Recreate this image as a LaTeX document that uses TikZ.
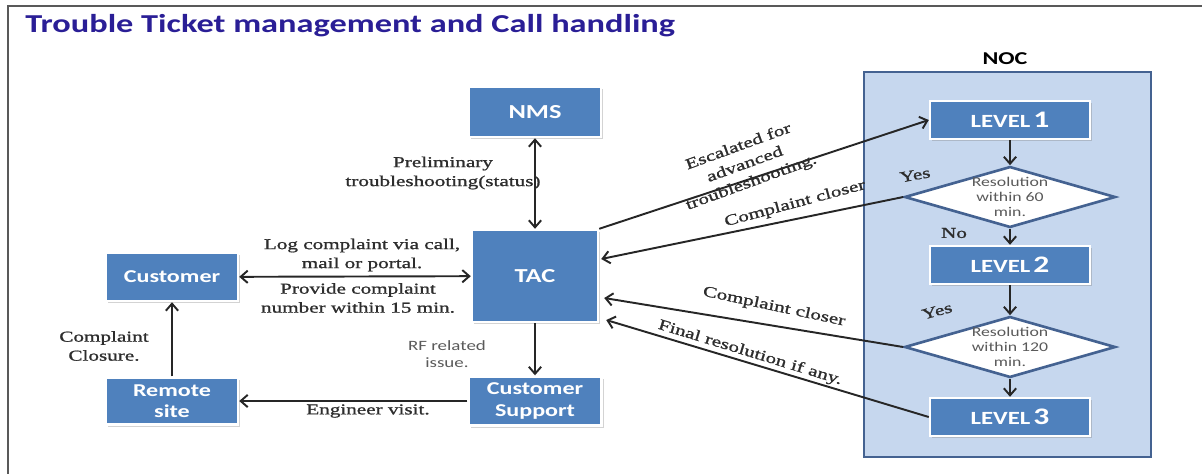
\documentclass[tikz,border=0pt]{standalone}
\usepackage{fontspec}
\setmainfont{Carlito}
\newfontfamily\boxfont{Carlito}[FakeStretch=1.33]
\newfontfamily\lblfont{Liberation Serif}[FakeStretch=1.4,FakeBold=1.2]
\usepackage{tikz}
\usetikzlibrary{arrows.meta, calc, shadows, shapes.geometric}
\definecolor{boxBlue}{RGB}{79,129,189}
\definecolor{nocFill}{RGB}{198,215,238}
\definecolor{nocEdge}{RGB}{68,98,145}
\definecolor{titleBlue}{RGB}{42,30,150}
\definecolor{lblGray}{RGB}{45,45,45}
\definecolor{decGray}{RGB}{90,90,90}
\newcommand{\lvlname}[1]{{\fontsize{10.6}{12}\selectfont LEVEL}\,{\fontsize{13.5}{14}\selectfont #1}}
\tikzset{
  blockbox/.style={draw=white, line width=1.4pt, fill=boxBlue, text=white, align=center,
    font=\boxfont\bfseries\fontsize{10.3}{12}\selectfont, inner sep=0pt,
    drop shadow={shadow xshift=1.2pt, shadow yshift=-1.2pt, opacity=0.35}},
  levelbox/.style={blockbox, minimum width=3.2cm, minimum height=0.76cm},
  decision/.style={diamond, draw=nocEdge, line width=1.5pt, fill=white, inner sep=0pt,
    minimum width=4.22cm, minimum height=1.22cm},
  dectext/.style={text=decGray, font=\boxfont\fontsize{7.6}{8.4}\selectfont, align=center, inner sep=0pt},
  flow/.style={line width=1.1pt, draw=black!85, -{Straight Barb[length=4pt, width=7pt]}},
  twoway/.style={flow, {Straight Barb[length=4pt, width=7pt]}-{Straight Barb[length=4pt, width=7pt]}},
  lbl/.style={text=lblGray, font=\lblfont\fontsize{8.6}{10.8}\selectfont, align=center, inner sep=0pt}
}
\begin{document}
\begin{tikzpicture}[x=0.02cm, y=-0.02cm]

  \useasboundingbox (0,0) rectangle (1202,474);
  \draw [line width=1pt, black!65] (1202,6) -- (8,6) -- (8,474);
  \node [anchor=base west, inner sep=0pt, text=titleBlue, font=\boxfont\bfseries\fontsize{14.7}{16}\selectfont] (title) at (25,32) {Trouble Ticket management and Call handling};

  % left part
  \node [blockbox, minimum width=2.64cm, minimum height=1cm, font=\boxfont\bfseries\fontsize{11.3}{13}\selectfont] (nms) at (535,112) {NMS};
  \node [blockbox, minimum width=2.52cm, minimum height=1.84cm, font=\boxfont\bfseries\fontsize{11.3}{13}\selectfont] (tac) at (535,276) {TAC};
  \node [blockbox, minimum width=2.64cm, minimum height=0.96cm] (cust) at (172,277) {Customer};
  \node [blockbox, minimum width=2.64cm, minimum height=0.94cm] (remote) at (172,401) {Remote\\site};
  \node [blockbox, minimum width=2.66cm, minimum height=0.98cm] (cs) at (535,401) {Customer\\Support};

  % NOC
  \node [draw=nocEdge, fill=nocFill, line width=1.5pt, minimum width=5.74cm, minimum height=7.7cm] (noc) at (1007.5,264.5) {};
  \node [font=\boxfont\bfseries\fontsize{10.3}{12}\selectfont, inner sep=0pt] (noctitle) at (1005,59) {NOC};
  \node [levelbox] (l1) at (1010,120) {\lvlname{1}};
  \node [decision] (d1) at (1010,197) {};
  \node [dectext] (d1txt) at (d1) {Resolution\\within 60\\min.};
  \node [levelbox] (l2) at (1010,265) {\lvlname{2}};
  \node [decision] (d2) at (1010,347) {};
  \node [dectext] (d2txt) at (d2) {Resolution\\within 120\\min.};
  \node [levelbox] (l3) at (1010,417) {\lvlname{3}};

  \draw [twoway] (nms) -- (tac);
  \draw [twoway] (cust) -- (tac);
  \draw [flow] (tac) -- (cs);
  \draw [flow] (cs) -- (remote);
  \draw [flow] (remote) -- (cust);
  \draw [flow] (tac.north east) -- (l1.west);
  \draw [flow] (d1.west) -- ($(tac.east)+(2,-17)$);
  \draw [flow] (d2.west) -- ($(tac.east)+(5,22)$);
  \draw [flow] (l3.west) -- ($(tac.east)+(7,44)$);
  \draw [flow] (l1) -- (d1);
  \draw [flow] (d1) -- (l2);
  \draw [flow] (l2) -- (d2);
  \draw [flow] (d2) -- (l3);

  \node [lbl] (prelimtxt) at (443,173) {Preliminary\\troubleshooting(status)};
  \node [lbl] (logtxt) at (362,255) {Log complaint via call,\\mail or portal.};
  \node [lbl] (provtxt) at (358,298) {Provide complaint\\number within 15 min.};
  \node [lbl, text=decGray, font=\boxfont\fontsize{8.1}{10}\selectfont] (rftxt) at (447,354) {RF related\\issue.};
  \node [lbl] (engtxt) at (368,411) {Engineer visit.};
  \node [lbl] (closuretxt) at (104,346) {Complaint\\Closure.};
  \node [lbl, rotate=20] (esctxt) at (745,165) {Escalated for\\advanced\\troubleshooting.};
  \node [lbl, rotate=15] (closeAtxt) at (795,204) {Complaint closer};
  \node [lbl, rotate=-12] (closeBtxt) at (774,307) {Complaint closer};
  \node [lbl, rotate=-17] (finaltxt) at (750,353) {Final resolution if any.};
  \node [lbl, rotate=10] (yesAtxt) at (915,175) {Yes};
  \node [lbl] (noAtxt) at (954,233) {No};
  \node [lbl, rotate=15] (yesBtxt) at (937,311) {Yes};
\end{tikzpicture}
\end{document}
